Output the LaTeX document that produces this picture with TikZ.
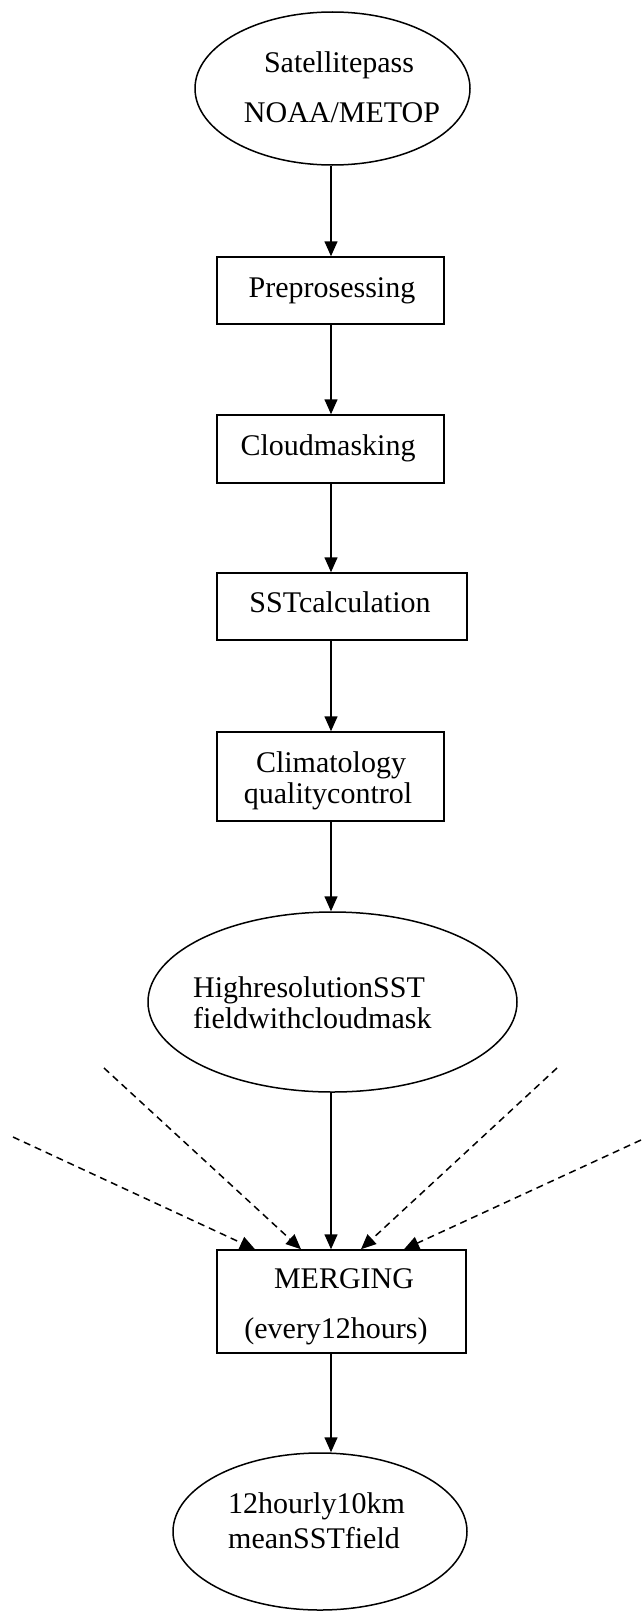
\documentclass[tikz,border=0pt]{standalone}
\usepackage{fontspec}
\setmainfont{Liberation Serif}
\usetikzlibrary{arrows.meta,shapes.geometric}
\begin{document}
\begin{tikzpicture}[x=1pt,y=-1pt,
  boxnode/.style={draw, rectangle, line width=1.5pt, inner sep=0pt},
  ovalnode/.style={draw, ellipse, line width=1.5pt, inner sep=0pt},
  lbl/.style={font=\fontsize{30}{36}\selectfont, inner sep=0pt, anchor=base},
  lblw/.style={lbl, anchor=base west},
  arr/.style={line width=1.5pt, -{Triangle[length=15pt,width=13pt]}},
  feed/.style={arr, dash pattern=on 7pt off 5pt}]
\useasboundingbox (0,0) rectangle (641,1611);
\coordinate (axis) at (331,0);

% shapes
\node[ovalnode, minimum width=275pt, minimum height=153pt] (sat) at (332.5,88.5) {};
\node[boxnode, minimum width=227pt, minimum height=67pt] (pre) at (330.5,290.5) {};
\node[boxnode, minimum width=227pt, minimum height=68pt] (cloud) at (330.5,449) {};
\node[boxnode, minimum width=250pt, minimum height=67pt] (sst) at (342,606.5) {};
\node[boxnode, minimum width=227pt, minimum height=89pt] (clim) at (330.5,776.5) {};
\node[ovalnode, minimum width=369pt, minimum height=180pt] (hi) at (332.5,1002) {};
\node[boxnode, minimum width=249pt, minimum height=103pt] (merge) at (341.5,1301.5) {};
\node[ovalnode, minimum width=294pt, minimum height=157pt] (mean) at (320,1531.5) {};

% texts
\node[lbl] (sat-a) at (339,72) {Satellitepass};
\node[lbl] (sat-b) at (342,122) {NOAA/METOP};
\node[lbl] (pre-a) at (332,297) {Preprosessing};
\node[lbl] (cloud-a) at (328,455) {Cloudmasking};
\node[lbl] (sst-a) at (340,612) {SSTcalculation};
\node[lbl] (clim-a) at (331,772) {Climatology};
\node[lbl] (clim-b) at (328,803) {qualitycontrol};
\node[lblw] (hi-a) at (193,997) {HighresolutionSST};
\node[lblw] (hi-b) at (193,1028) {fieldwithcloudmask};
\node[lbl] (merge-a) at (344,1288) {MERGING};
\node[lbl] (merge-b) at (336,1338) {(every12hours)};
\node[lblw] (mean-a) at (228,1513) {12hourly10km};
\node[lblw] (mean-b) at (228,1548) {meanSSTfield};

% main flow
\draw[arr] (sat.south -| axis) -- (pre.north -| axis);
\draw[arr] (pre.south -| axis) -- (cloud.north -| axis);
\draw[arr] (cloud.south -| axis) -- (sst.north -| axis);
\draw[arr] (sst.south -| axis) -- (clim.north -| axis);
\draw[arr] (clim.south -| axis) -- (hi.north -| axis);
\draw[arr] (hi.south -| axis) -- (merge.north -| axis);
\draw[arr] (merge.south -| axis) -- (mean.north -| axis);

% other inputs
\coordinate (in1) at (13,1137);
\coordinate (in2) at (104,1068);
\coordinate (in3) at (557,1068);
\coordinate (in4) at (641,1140);
\draw[feed] (in1) -- ([xshift=-86.5pt]merge.north);
\draw[feed] (in2) -- ([xshift=-40.5pt]merge.north);
\draw[feed] (in3) -- ([xshift=19.5pt]merge.north);
\draw[feed] (in4) -- ([xshift=62.5pt]merge.north);
\end{tikzpicture}
\end{document}
